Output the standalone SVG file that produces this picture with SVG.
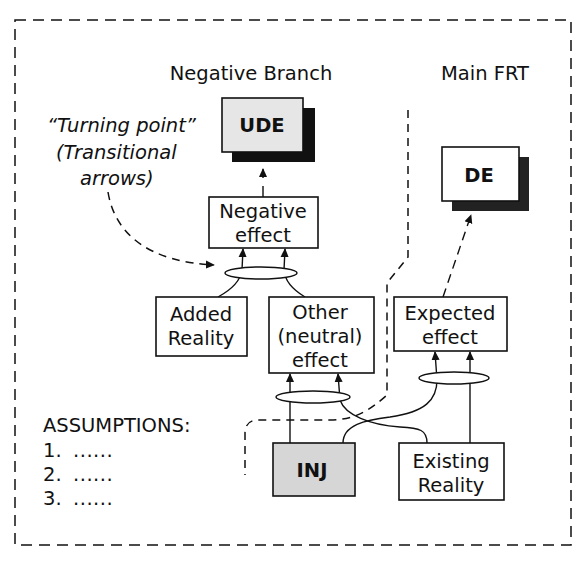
<svg xmlns="http://www.w3.org/2000/svg" width="580" height="563" viewBox="0 0 580 563">
<defs>
<marker id="ah" viewBox="0 0 10 10" refX="9" refY="5" markerWidth="9" markerHeight="9" markerUnits="userSpaceOnUse" orient="auto">
<path d="M0,0.5 L10,5 L0,9.5 Z" fill="#111"/>
</marker>
<style>
text{font-family:"DejaVu Sans","Liberation Sans",sans-serif;font-size:19.5px;fill:#111}
.c{text-anchor:middle}
.b{font-weight:bold}
.i{font-style:italic}
.box{fill:#fff;stroke:#111;stroke-width:1.6}
.shadow{fill:#111}
.con{fill:none;stroke:#111;stroke-width:1.4}
.dash{fill:none;stroke:#111;stroke-width:1.5;stroke-dasharray:8,6}
.and{fill:#fff;stroke:#111;stroke-width:1.5}
</style>
</defs>
<rect width="580" height="563" fill="#fff"/>
<rect x="15" y="20" width="556" height="525" fill="none" stroke="#111" stroke-width="1.5" stroke-dasharray="11,7"/>

<g id="labels">
<text class="c" x="251" y="80">Negative Branch</text>
<text class="c" x="485" y="80">Main FRT</text>
<text class="i" x="47" y="132">“Turning point”</text>
<text class="i" x="56" y="159">(Transitional</text>
<text class="i" x="80" y="185">arrows)</text>
</g>

<g id="assumptions">
<text x="43" y="432">ASSUMPTIONS:</text>
<text x="43" y="457">1.<tspan x="73" letter-spacing="0.5">......</tspan></text>
<text x="43" y="481">2.<tspan x="73" letter-spacing="0.5">......</tspan></text>
<text x="43" y="505">3.<tspan x="73" letter-spacing="0.5">......</tspan></text>
</g>

<g id="connectors">
<path class="dash" d="M408,110 V257 L387,283 V395 C370,410 355,420 330,420 H258 Q246,420 245,432 V475"/>
<path class="dash" d="M108,192 C115,235 150,262 214,265" marker-end="url(#ah)"/>
<path class="con" d="M263,197 V169" stroke-dasharray="11,8" marker-end="url(#ah)"/>
<path class="con" d="M443,297 L471,215" stroke-dasharray="9,6" marker-end="url(#ah)"/>
<path class="con" d="M218,297 Q240,285 242,270 L243,249" marker-end="url(#ah)"/>
<path class="con" d="M305,297 Q285,285 284,270 L285,249" marker-end="url(#ah)"/>
<path class="con" d="M290,443 V374" marker-end="url(#ah)"/>
<path class="con" d="M427,443 C427,430 420,428 400,427 C370,425 345,415 340,400 L338,374" marker-end="url(#ah)"/>
<path class="con" d="M470,443 V352" marker-end="url(#ah)"/>
<path class="con" d="M343,443 C343,425 365,420 390,417 C425,412 437,400 437,380 L435,352" marker-end="url(#ah)"/>
<ellipse class="and" cx="261" cy="273" rx="36" ry="6"/>
<ellipse class="and" cx="313" cy="397" rx="37" ry="6"/>
<ellipse class="and" cx="454" cy="378" rx="35" ry="6"/>
</g>

<g id="UDE">
<rect class="shadow" x="232" y="108" width="83" height="54"/>
<rect class="box" x="222" y="98" width="81" height="54" style="fill:#e6e6e6"/>
<text class="c b" x="262" y="132">UDE</text>
</g>

<g id="DE">
<rect x="452" y="157" width="77" height="54" fill="#222"/>
<rect class="box" x="442" y="147" width="77" height="54"/>
<text class="c b" x="479" y="182">DE</text>
</g>

<g id="negative-effect">
<rect class="box" x="209" y="197" width="109" height="51"/>
<text class="c" x="263" y="218">Negative</text>
<text class="c" x="263" y="242">effect</text>
</g>

<g id="added-reality">
<rect class="box" x="156" y="297" width="91" height="59"/>
<text class="c" x="201" y="321">Added</text>
<text class="c" x="201" y="345">Reality</text>
</g>

<g id="other-effect">
<rect class="box" x="269" y="297" width="105" height="76"/>
<text class="c" x="320" y="319">Other</text>
<text class="c" x="320" y="343">(neutral)</text>
<text class="c" x="320" y="367">effect</text>
</g>

<g id="expected-effect">
<rect class="box" x="394" y="297" width="113" height="54"/>
<text class="c" x="450" y="320">Expected</text>
<text class="c" x="450" y="344">effect</text>
</g>

<g id="INJ">
<rect class="box" x="273" y="443" width="82" height="53" style="fill:#d6d6d6"/>
<text class="c b" x="312" y="477">INJ</text>
</g>

<g id="existing-reality">
<rect class="box" x="399" y="443" width="105" height="57"/>
<text class="c" x="451" y="468">Existing</text>
<text class="c" x="451" y="492">Reality</text>
</g>
</svg>
